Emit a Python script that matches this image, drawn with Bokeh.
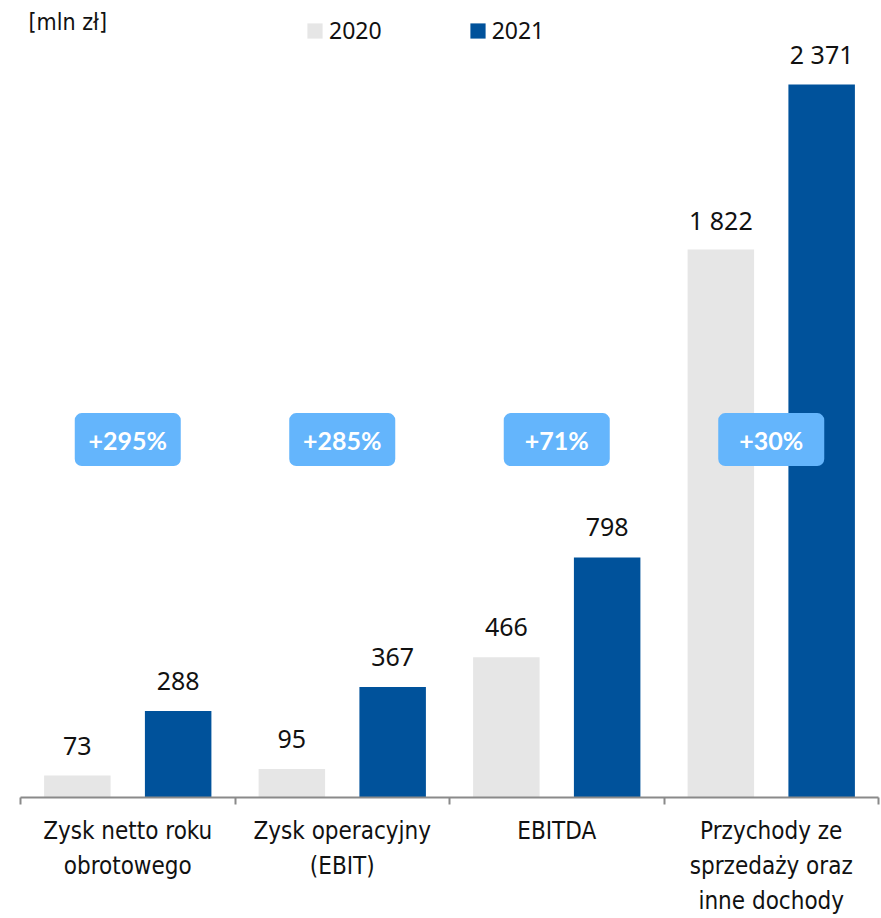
from bokeh.plotting import figure
from bokeh.models import (ColumnDataSource, Range1d, LinearAxis, FixedTicker, Label)
from bokeh.transform import dodge
from bokeh.core.properties import value
from bokeh.embed import file_html
from bokeh.resources import INLINE

categories = ["Zysk netto roku\nobrotowego", "Zysk operacyjny\n(EBIT)", "EBITDA",
              "Przychody ze\nsprzedaży oraz\ninne dochody"]
values_2020 = [73, 95, 466, 1822]
values_2021 = [288, 367, 798, 2371]
changes = ["+295%", "+285%", "+71%", "+30%"]
unit_label = "[mln zł]"
series_names = ["2020", "2021"]

def fmt(v):
    return f"{v:,}".replace(",", " ")

n = len(categories)
centers = [i + 0.5 for i in range(n)]          # slot centre of each category
bounds = list(range(n + 1))                    # slot boundaries (tick marks)
src = ColumnDataSource(dict(
    pos=centers,
    v20=values_2020, v21=values_2021,
    t20=[fmt(v) for v in values_2020], t21=[fmt(v) for v in values_2021],
    chg=changes, badge_y=[1190] * n,
))

C20 = "#e6e6e6"
C21 = "#00529b"
BADGE = "#64b5fc"
CAT_FONT = "'DejaVu Sans Condensed', Roboto, sans-serif"
NUM_FONT = "Noto Sans"

p = figure(width=881, height=918, output_backend="svg", toolbar_location=None,
           x_range=Range1d(0, n), y_range=Range1d(0, 2650),
           x_axis_location=None, y_axis_location=None,
           min_border_left=20, min_border_right=3, min_border_top=0, min_border_bottom=116)
p.outline_line_color = None
p.xgrid.grid_line_color = None
p.ygrid.grid_line_color = None
p.background_fill_color = "white"
p.border_fill_color = "white"

cat_axis = LinearAxis(ticker=FixedTicker(ticks=centers, minor_ticks=bounds),
                      major_label_overrides={c: lab for c, lab in zip(centers, categories)},
                      axis_line_color="#8a8a8a", axis_line_width=2,
                      major_tick_line_color=None, major_tick_in=0, major_tick_out=0,
                      minor_tick_line_color="#8a8a8a", minor_tick_line_width=2,
                      minor_tick_in=0, minor_tick_out=7,
                      major_label_standoff=12,
                      major_label_text_font=CAT_FONT,
                      major_label_text_font_size="24px",
                      major_label_text_color="#111111",
                      major_label_text_line_height=1.26)
p.add_layout(cat_axis, "below")

p.vbar(x=dodge("pos", -0.235), top="v20", width=0.31, source=src,
       fill_color=C20, line_color=None, legend_label=series_names[0])
p.vbar(x=dodge("pos", 0.235), top="v21", width=0.31, source=src,
       fill_color=C21, line_color=None, legend_label=series_names[1])

for off, col, yc in ((-0.235, "t20", "v20"), (0.235, "t21", "v21")):
    p.text(x=dodge("pos", off), y=yc, text=col, source=src,
           text_align="center", text_baseline="alphabetic", y_offset=-30,
           text_font=value(NUM_FONT), text_font_size="25px", text_color="#111111")

p.rect(x="pos", y="badge_y", width=106, height=53, width_units="screen", height_units="screen",
       source=src, fill_color=BADGE, line_color=None, border_radius=7)
p.text(x="pos", y="badge_y", text="chg", source=src, text_align="center", text_baseline="middle",
       text_font=value("Lato"), text_font_style="bold", text_font_size="25px", text_color="white")

lg = p.legend[0]
lg.orientation = "horizontal"
lg.location = (285, 751)
lg.border_line_color = None
lg.background_fill_alpha = 0
lg.padding = 0
lg.margin = 0
lg.spacing = 86
lg.glyph_width = 19
lg.glyph_height = 19
lg.label_standoff = 5
lg.label_text_font = NUM_FONT
lg.label_text_font_size = "23px"
lg.label_text_color = "#111111"

p.add_layout(Label(x=8, y=776, x_units="screen", y_units="screen", text=unit_label,
                   text_font=CAT_FONT, text_font_size="23px", text_baseline="middle",
                   text_color="#111111"))

open("out.html", "w").write(file_html(p, INLINE))
